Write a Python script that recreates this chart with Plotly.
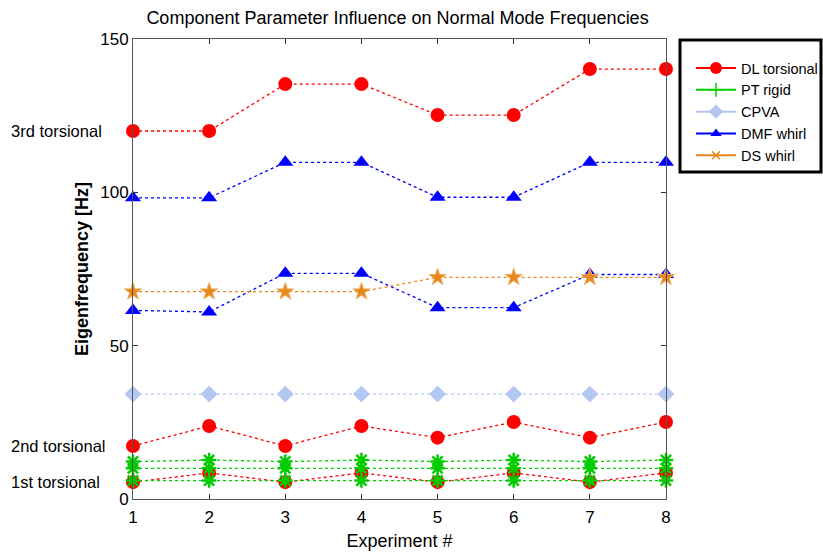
import plotly.graph_objects as go

# Experiments on the x axis
experiments = [1, 2, 3, 4, 5, 6, 7, 8]

# Eigenfrequencies [Hz] per mode family
dl_torsional_1st = [5.5, 8.5, 5.5, 8.5, 5.5, 8.5, 5.5, 8.5]
dl_torsional_2nd = [17.3, 23.8, 17.3, 23.8, 20.0, 25.1, 20.0, 25.1]
dl_torsional_3rd = [120.0, 120.0, 135.3, 135.3, 125.2, 125.2, 140.2, 140.2]

pt_rigid_a = [6.0, 6.0, 6.0, 6.0, 6.0, 6.0, 6.0, 6.0]
pt_rigid_b = [10.0, 10.0, 10.0, 10.0, 10.0, 10.0, 10.0, 10.0]
pt_rigid_c = [12.2, 12.7, 12.2, 12.7, 12.2, 12.7, 12.2, 12.7]

cpva = [34.2, 34.2, 34.2, 34.2, 34.2, 34.2, 34.2, 34.2]

dmf_whirl_low = [61.5, 61.0, 73.6, 73.6, 62.4, 62.4, 73.2, 73.2]
dmf_whirl_high = [98.2, 98.2, 109.8, 109.8, 98.4, 98.4, 109.8, 109.8]

ds_whirl = [67.6, 67.6, 67.6, 67.6, 72.3, 72.3, 72.3, 72.3]

# Mode labels placed beside the y axis
mode_labels = ["3rd torsional", "2nd torsional", "1st torsional"]
mode_label_y = [dl_torsional_3rd[0], dl_torsional_2nd[0], dl_torsional_1st[0]]

RED = "#ff0000"
GREEN = "#00cc00"
LIGHTBLUE = "#b3c7f2"
BLUE = "#0000ff"
ORANGE = "#e8871a"

FONT = "Liberation Sans, Arial, sans-serif"

# Plot area in pixels
W, H = 823, 554
L, R, T, B = 133, 157, 39, 55
PW, PH = W - L - R, H - T - B


def px_to_paper(xp, yp):
    return (xp - L) / PW, (H - B - yp) / PH


fig = go.Figure()


def add_series(y, color, symbol, size, group, line_w=1.3, mline=0, mline_color=None):
    fig.add_trace(go.Scatter(
        x=experiments, y=y, mode="lines+markers",
        line=dict(color=color, width=line_w, dash="dot"),
        marker=dict(symbol=symbol, size=size, color=color,
                    line=dict(width=mline, color=mline_color or color)),
        legendgroup=group, showlegend=False, cliponaxis=False,
    ))


for series in (dl_torsional_1st, dl_torsional_2nd, dl_torsional_3rd):
    add_series(series, RED, "circle", 14, "dl")
for series in (pt_rigid_a, pt_rigid_b, pt_rigid_c):
    add_series(series, GREEN, "asterisk-open", 12, "pt", mline=2.5)
add_series(cpva, LIGHTBLUE, "diamond", 13, "cpva")
for series in (dmf_whirl_low, dmf_whirl_high):
    add_series(series, BLUE, "triangle-up", 14, "dmf")
add_series(ds_whirl, ORANGE, "star", 13, "ds", mline=1, mline_color="#f2ad62")

# Legend entries
legend_items = [
    ("DL torsional", RED, "circle", 12, 0),
    ("PT rigid", GREEN, "cross-thin-open", 10, 1.5),
    ("CPVA", LIGHTBLUE, "diamond", 11, 0),
    ("DMF whirl", BLUE, "triangle-up", 10, 0),
    ("DS whirl", ORANGE, "x-thin-open", 8, 1.5),
]
for name, color, symbol, size, lw in legend_items:
    fig.add_trace(go.Scatter(
        x=[None], y=[None], mode="lines+markers", name=name,
        line=dict(color=color, width=2),
        marker=dict(symbol=symbol, size=size, color=color,
                    line=dict(width=lw, color=color)),
    ))

for text, yv in zip(mode_labels, mode_label_y):
    fig.add_annotation(
        x=px_to_paper(9, 0)[0], xref="paper", y=yv, yref="y", text=text,
        showarrow=False, xanchor="left", yanchor="middle",
        font=dict(family=FONT, size=16.5, color="#000"),
    )

# Legend frame
x0, y0 = px_to_paper(680, 172)
x1, y1 = px_to_paper(821, 40)
fig.add_shape(type="rect", xref="paper", yref="paper", x0=x0, y0=y0, x1=x1, y1=y1,
              line=dict(color="black", width=3), fillcolor="rgba(0,0,0,0)")

axis_common = dict(
    showline=True, linecolor="#555", linewidth=1, mirror="ticks",
    ticks="inside", ticklen=5, tickcolor="#333", showgrid=False,
    zeroline=False, automargin=False,
    tickfont=dict(family=FONT, size=17, color="#000"),
)

lx, ly = px_to_paper(823, 52)
fig.update_layout(
    width=W, height=H,
    margin=dict(l=L, r=R, t=T, b=B, autoexpand=False),
    paper_bgcolor="white", plot_bgcolor="white",
    title=dict(
        text="Component Parameter Influence on Normal Mode Frequencies",
        x=0.483, xanchor="center", y=0.968, yanchor="middle",
        font=dict(family=FONT, size=18, color="#000"),
    ),
    xaxis=dict(range=[1, 8], tickvals=experiments, ticklabelstandoff=3,
               title=dict(text="Experiment #", standoff=7,
                          font=dict(family=FONT, size=18, color="#000")),
               **axis_common),
    yaxis=dict(range=[0, 150], tickvals=[0, 50, 100, 150],
               title=dict(text="<b>Eigenfrequency [Hz]</b>", standoff=6,
                          font=dict(family=FONT, size=18, color="#000")),
               **axis_common),
    legend=dict(
        x=lx, xanchor="right", y=ly, yanchor="top",
        bgcolor="rgba(0,0,0,0)", borderwidth=0,
        font=dict(family=FONT, size=14.5, color="#000"),
        itemwidth=40, tracegroupgap=0,
    ),
    showlegend=True,
)

fig.write_html("out.html")
